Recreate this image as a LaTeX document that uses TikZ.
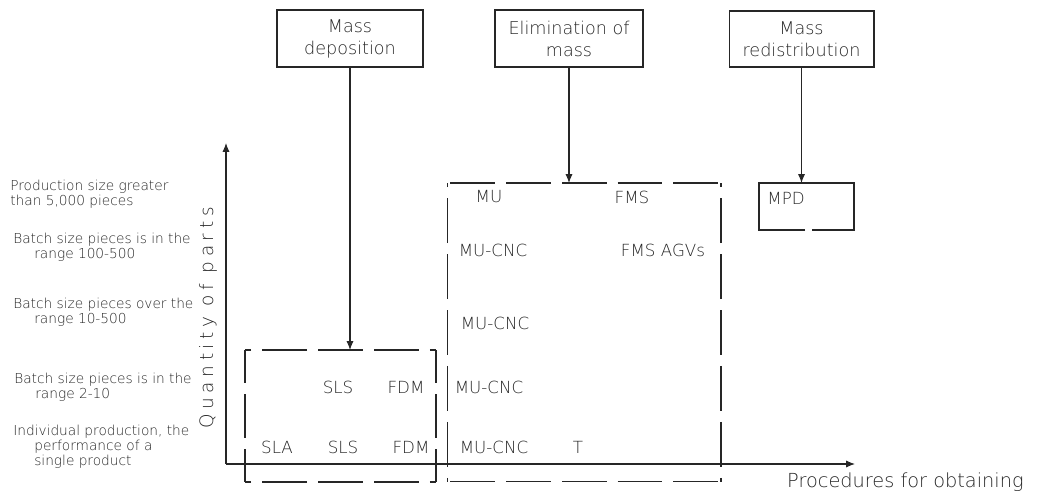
\documentclass[tikz,border=0pt]{standalone}
\usepackage{fontspec}
\setmainfont{DejaVu Sans ExtraLight}
\newfontfamily\axisfont{DejaVu Sans ExtraLight}[LetterSpace=25]
\usetikzlibrary{arrows.meta,calc,positioning}

\tikzset{
  titlebox/.style={draw, line width=0.6pt, align=center, inner sep=0pt,
    font=\fontsize{10}{12.5}\selectfont},
  grpbox/.style={inner sep=0pt, outer sep=0pt},
  grpline/.style={line width=0.6pt, dash pattern=on 0.9cm off 0.22cm, dash phase=0.45cm},
  conn/.style={line width=0.6pt, -{Latex[length=5pt,width=4pt]}},
  celltxt/.style={font=\fontsize{9.5}{11}\selectfont, inner sep=0pt},
  rowtxt/.style={font=\fontsize{7.8}{8.6}\selectfont, align=left, anchor=west, inner sep=0pt},
}
\newcommand{\ind}{\hspace*{0.42cm}}

\begin{document}
\begin{tikzpicture}[x=0.02cm, y=-0.02cm, black!85]
    \useasboundingbox (0,0) rectangle (1040,502);

    % Axes
    \coordinate (O) at (226,464);
    \coordinate (ytop) at (226,143);
    \coordinate (xend) at (855,464);
    \draw[conn] (O) -- (ytop);
    \draw[conn] (O) -- (xend);
    \node[font=\fontsize{11}{13}\selectfont, anchor=west] (xlab) at (781,482) {Procedures for obtaining};
    \node[font=\axisfont\fontsize{10.5}{12}\selectfont, rotate=90] (ylab) at (208,318) {Quantity of parts};

    % Process boxes
    \node[titlebox, minimum width=2.92cm, minimum height=1.14cm] (dep) at (350,38.5) {Mass\\deposition};
    \node[titlebox, minimum width=2.96cm, minimum height=1.14cm] (elim) at (569,38.5) {Elimination of\\mass};
    \node[titlebox, minimum width=2.9cm, minimum height=1.12cm] (redis) at (801.5,39) {Mass\\redistribution};

    % Dashed groups
    \node[grpbox, minimum width=3.82cm, minimum height=2.64cm] (depgrp) at (340.5,416) {};
    \node[grpbox, minimum width=5.48cm, minimum height=5.98cm] (elimgrp) at (584,332.5) {};
    \foreach \g in {depgrp,elimgrp}
      \foreach \m/\c in {north/north west, north/north east, east/north east, east/south east,
                         south/south east, south/south west, west/south west, west/north west}
        \draw[grpline] (\g.\m) -- (\g.\c);

    % MPD box (open at the bottom)
    \node[grpbox, minimum width=1.9cm, minimum height=0.94cm] (mpdbox) at (806.5,206.5) {};
    \draw[line width=0.6pt] ($(mpdbox.south)+(-1.5,0)$) -- (mpdbox.south west) -- (mpdbox.north west)
      -- (mpdbox.north east) -- (mpdbox.south east) -- ($(mpdbox.south)+(5.5,0)$);
    \node[celltxt] (mpd) at (786,198) {MPD};

    % Connectors
    \draw[conn] (dep.south) -- (dep.south |- depgrp.north);
    \draw[conn] (elim.south) -- (elim.south |- elimgrp.north);
    \draw[conn] (redis.south) -- (redis.south |- mpdbox.north);

    % Row labels
    \node[rowtxt] (r5) at (10,194) {Production size greater\\than 5,000 pieces};
    \node[rowtxt] (r4) at (13,247) {Batch size pieces is in the\\\ind range 100-500};
    \node[rowtxt] (r3) at (13,312.5) {Batch size pieces over the\\\ind range 10-500};
    \node[rowtxt] (r2) at (14,387.5) {Batch size pieces is in the\\\ind range 2-10};
    \node[rowtxt] (r1) at (13,447) {Individual production, the\\\ind performance of a\\\ind single product};

    % Mass deposition entries
    \node[celltxt] (sls2) at (338,387) {SLS};
    \node[celltxt] (fdm2) at (406,387) {FDM};
    \node[celltxt] (sla1) at (277,447) {SLA};
    \node[celltxt] (sls1) at (343,447) {SLS};
    \node[celltxt] (fdm1) at (411,447) {FDM};

    % Elimination of mass entries
    \node[celltxt] (mu5) at (489,197) {MU};
    \node[celltxt] (fms5) at (632,197) {FMS};
    \node[celltxt] (cnc4) at (493,250) {MU-CNC};
    \node[celltxt] (agv4) at (663,250) {FMS AGVs};
    \node[celltxt] (cnc3) at (495,323) {MU-CNC};
    \node[celltxt] (cnc2) at (489,387) {MU-CNC};
    \node[celltxt] (cnc1) at (494,447) {MU-CNC};
    \node[celltxt] (t1) at (578,447) {T};
\end{tikzpicture}
\end{document}
